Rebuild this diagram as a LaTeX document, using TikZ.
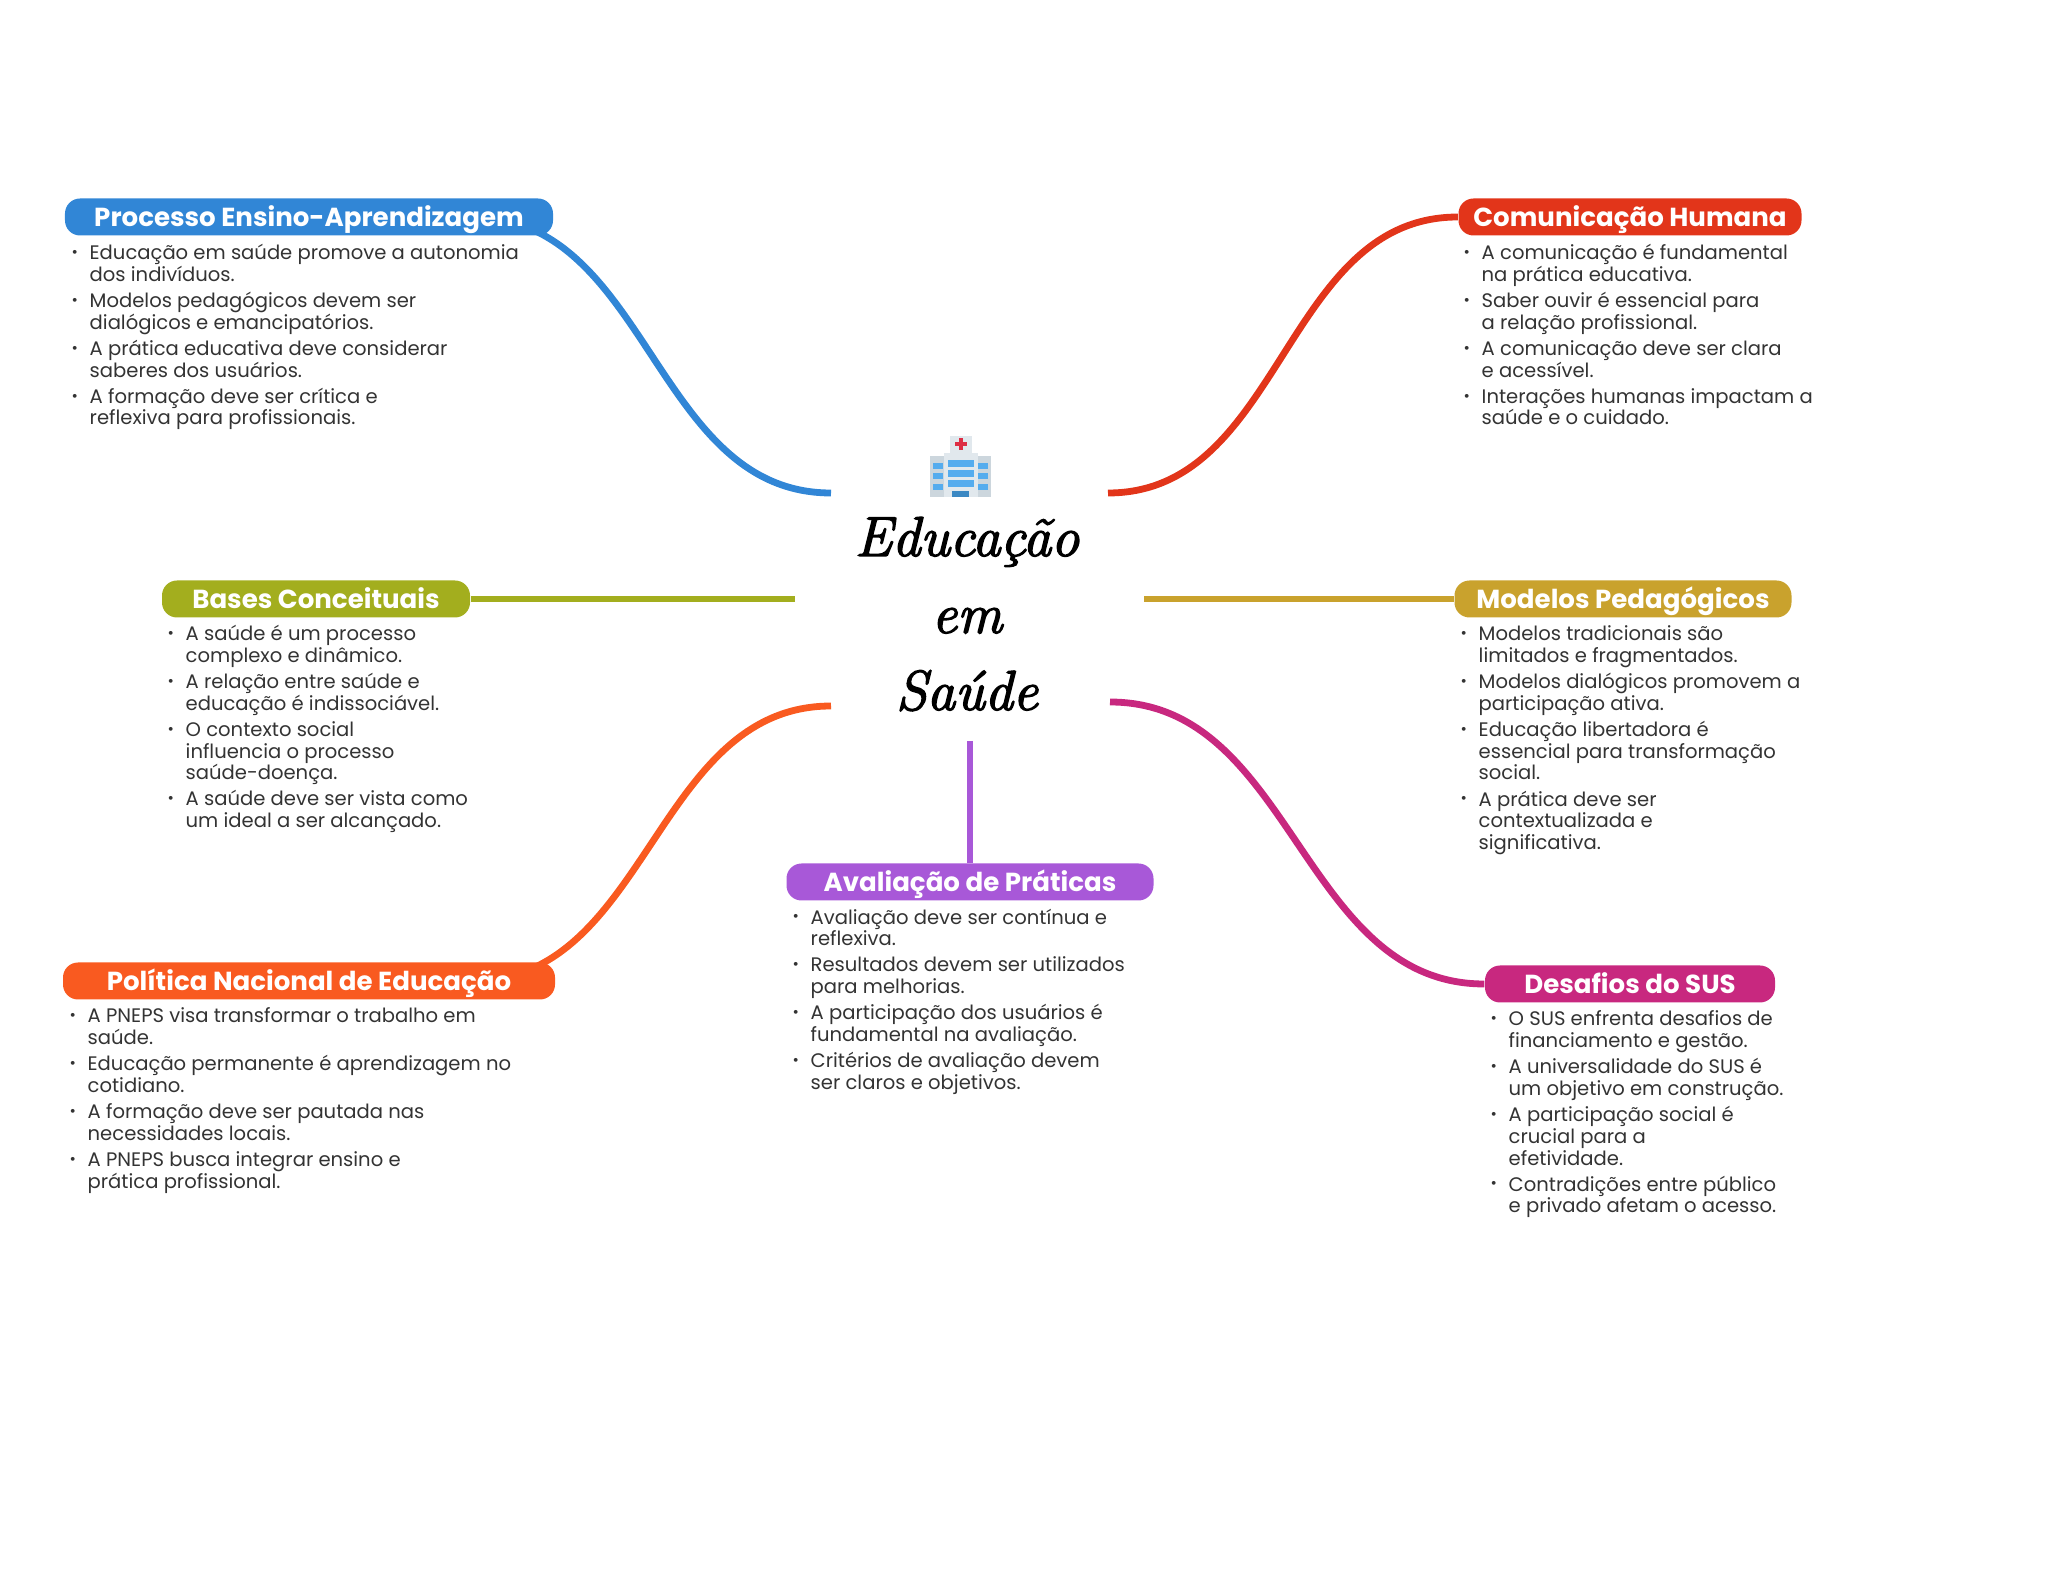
\documentclass[tikz,border=0pt]{standalone}
\usepackage{fontspec}
\usetikzlibrary{backgrounds}
\newfontfamily\popfont{Poppins}
\newfontfamily\titlefont[ItalicFeatures={FakeBold=2.5}]{Latin Modern Roman}
\definecolor{blueMap}{HTML}{3186D6}
\definecolor{redMap}{HTML}{E2351A}
\definecolor{greenMap}{HTML}{A3AE1E}
\definecolor{goldMap}{HTML}{C9A22D}
\definecolor{purpleMap}{HTML}{A858D8}
\definecolor{orangeMap}{HTML}{F95A20}
\definecolor{magentaMap}{HTML}{C8287F}
\definecolor{bodyText}{HTML}{333333}
\definecolor{iconWall}{HTML}{E1E8ED}
\definecolor{iconWing}{HTML}{CCD6DD}
\definecolor{iconGlass}{HTML}{55ACEE}
\definecolor{iconDoor}{HTML}{3B88C3}
\definecolor{iconCross}{HTML}{DD2E44}
\newcommand{\itm}{\makebox[0.18cm][l]{\raisebox{0.6pt}{\fontsize{4.4pt}{5pt}\selectfont •}}}
\newcommand{\hng}{\hspace*{0.18cm}}
\newcommand{\nxt}{\\[0.043cm]}
\tikzset{
    headNode/.style={fill=#1, text=white, rounded corners=0.15cm, inner sep=0pt, minimum height=0.37cm,
        text height=0.22cm, text depth=0.03cm,
        font=\popfont\bfseries\fontsize{7.42pt}{8pt}\selectfont},
    bodyNode/.style={anchor=north west, align=left, inner sep=0pt, text=bodyText,
        font=\popfont\fontsize{5.57pt}{6.2pt}\selectfont},
    branchLine/.style={draw=#1, line width=0.068cm}
}
\begin{document}
\begin{tikzpicture}
    \useasboundingbox (0cm,0cm) rectangle (20.48cm,15.69cm);

    \node[align=center, font=\titlefont\itshape\fontsize{16pt}{21.9pt}\selectfont] (title) at (9.67cm,9.55cm) {Educação\\em\\Saúde};

    % hospital icon
    \fill[iconWing] (9.30cm,11.13cm) rectangle (9.44cm,10.72cm);
    \fill[iconWing] (9.78cm,11.13cm) rectangle (9.91cm,10.72cm);
    \fill[iconWall] (9.44cm,11.16cm) rectangle (9.78cm,10.72cm);
    \fill[iconWall] (9.50cm,11.33cm) rectangle (9.72cm,11.16cm);
    \fill[iconCross] (9.59cm,11.19cm) rectangle (9.63cm,11.31cm);
    \fill[iconCross] (9.55cm,11.23cm) rectangle (9.67cm,11.27cm);
    \foreach \wy in {11.02cm,10.92cm,10.82cm} {
        \fill[iconGlass] (9.48cm,\wy) rectangle ++(0.26cm,0.07cm);
    }
    \foreach \wy in {11.00cm,10.90cm,10.79cm} {
        \fill[iconGlass] (9.33cm,\wy) rectangle ++(0.10cm,0.06cm);
        \fill[iconGlass] (9.78cm,\wy) rectangle ++(0.10cm,0.06cm);
    }
    \fill[iconDoor] (9.52cm,10.72cm) rectangle ++(0.17cm,0.06cm);

    \node[headNode=blueMap, minimum width=4.88cm] (procHead) at (3.09cm,13.52cm) {Processo Ensino-Aprendizagem};
    \node[headNode=redMap, minimum width=3.43cm] (comHead) at (16.30cm,13.52cm) {Comunicação Humana};
    \node[headNode=greenMap, minimum width=3.08cm] (baseHead) at (3.16cm,9.70cm) {Bases Conceituais};
    \node[headNode=goldMap, minimum width=3.37cm] (modHead) at (16.23cm,9.70cm) {Modelos Pedagógicos};
    \node[headNode=purpleMap, minimum width=3.67cm] (avalHead) at (9.70cm,6.87cm) {Avaliação de Práticas};
    \node[headNode=orangeMap, minimum width=4.92cm] (polHead) at (3.09cm,5.88cm) {Política Nacional de Educação};
    \node[headNode=magentaMap, minimum width=2.90cm] (desHead) at (16.30cm,5.85cm) {Desafios do SUS};

    \coordinate (procEnd) at (8.31cm,10.76cm);
    \coordinate (comEnd)  at (11.08cm,10.76cm);
    \coordinate (baseEnd) at (7.95cm,9.70cm);
    \coordinate (modEnd)  at (11.44cm,9.70cm);
    \coordinate (avalEnd) at (9.70cm,8.28cm);
    \coordinate (polEnd)  at (8.31cm,8.63cm);
    \coordinate (desEnd)  at (11.10cm,8.67cm);

    \begin{scope}[on background layer]
        \draw[branchLine=blueMap]    (procEnd) to[out=180, in=0] ([xshift=-0.82cm]procHead.east);
        \draw[branchLine=redMap]     (comEnd)  to[out=0, in=180] (comHead.west);
        \draw[branchLine=greenMap]   (baseEnd) -- (baseHead.east);
        \draw[branchLine=goldMap]    (modEnd)  -- (modHead.west);
        \draw[branchLine=purpleMap]  (avalEnd) -- (avalHead.north);
        \draw[branchLine=orangeMap]  (polEnd)  to[out=180, in=0] ([xshift=-0.84cm]polHead.east);
        \draw[branchLine=magentaMap] (desEnd)  to[out=0, in=180] (desHead.west);
    \end{scope}

    \node[bodyNode] (procBody) at (0.71cm,13.255cm) {%
        \itm Educação em saúde promove a autonomia\\\hng dos indivíduos.\nxt
        \itm Modelos pedagógicos devem ser\\\hng dialógicos e emancipatórios.\nxt
        \itm A prática educativa deve considerar\\\hng saberes dos usuários.\nxt
        \itm A formação deve ser crítica e\\\hng reflexiva para profissionais.};
    \node[bodyNode] (comBody) at (14.63cm,13.255cm) {%
        \itm A comunicação é fundamental\\\hng na prática educativa.\nxt
        \itm Saber ouvir é essencial para\\\hng a relação profissional.\nxt
        \itm A comunicação deve ser clara\\\hng e acessível.\nxt
        \itm Interações humanas impactam a\\\hng saúde e o cuidado.};
    \node[bodyNode] (baseBody) at (1.67cm,9.445cm) {%
        \itm A saúde é um processo\\\hng complexo e dinâmico.\nxt
        \itm A relação entre saúde e\\\hng educação é indissociável.\nxt
        \itm O contexto social\\\hng influencia o processo\\\hng saúde-doença.\nxt
        \itm A saúde deve ser vista como\\\hng um ideal a ser alcançado.};
    \node[bodyNode] (modBody) at (14.60cm,9.44cm) {%
        \itm Modelos tradicionais são\\\hng limitados e fragmentados.\nxt
        \itm Modelos dialógicos promovem a\\\hng participação ativa.\nxt
        \itm Educação libertadora é\\\hng essencial para transformação\\\hng social.\nxt
        \itm A prática deve ser\\\hng contextualizada e\\\hng significativa.};
    \node[bodyNode] (avalBody) at (7.92cm,6.61cm) {%
        \itm Avaliação deve ser contínua e\\\hng reflexiva.\nxt
        \itm Resultados devem ser utilizados\\\hng para melhorias.\nxt
        \itm A participação dos usuários é\\\hng fundamental na avaliação.\nxt
        \itm Critérios de avaliação devem\\\hng ser claros e objetivos.};
    \node[bodyNode] (polBody) at (0.69cm,5.62cm) {%
        \itm A PNEPS visa transformar o trabalho em\\\hng saúde.\nxt
        \itm Educação permanente é aprendizagem no\\\hng cotidiano.\nxt
        \itm A formação deve ser pautada nas\\\hng necessidades locais.\nxt
        \itm A PNEPS busca integrar ensino e\\\hng prática profissional.};
    \node[bodyNode] (desBody) at (14.90cm,5.59cm) {%
        \itm O SUS enfrenta desafios de\\\hng financiamento e gestão.\nxt
        \itm A universalidade do SUS é\\\hng um objetivo em construção.\nxt
        \itm A participação social é\\\hng crucial para a\\\hng efetividade.\nxt
        \itm Contradições entre público\\\hng e privado afetam o acesso.};
\end{tikzpicture}
\end{document}
